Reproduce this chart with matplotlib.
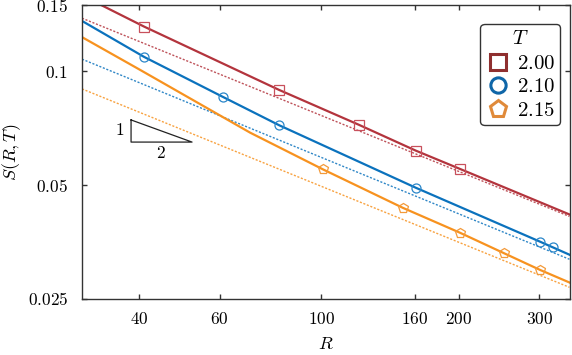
import numpy as np
import matplotlib
matplotlib.use('Agg')
from matplotlib import pyplot as plt
from matplotlib.lines import Line2D
from matplotlib.ticker import FixedLocator, FixedFormatter, NullLocator

plt.rcParams['mathtext.fontset'] = 'cm'
plt.rcParams['font.family'] = 'DejaVu Serif'

# ---------------- data ----------------
temps = ['2.00', '2.10', '2.15']

# simulation points
R_200 = [41, 81, 121, 161, 201]
S_200 = [0.1315, 0.0893, 0.0722, 0.0617, 0.0552]
R_210 = [41, 61, 81, 161, 301, 321]
S_210 = [0.1093, 0.0856, 0.0720, 0.0492, 0.0354, 0.0342]
R_215 = [101, 151, 201, 251, 301]
S_215 = [0.0550, 0.0435, 0.0374, 0.0330, 0.0298]

# fitted curves (solid)
fitR_200 = [30, 41, 81, 121, 161, 201, 349]
fitS_200 = [0.159, 0.1315, 0.0893, 0.0722, 0.0617, 0.0552, 0.0418]
fitR_210 = [30, 41, 61, 81, 161, 301, 321, 349]
fitS_210 = [0.1361, 0.1093, 0.0856, 0.0720, 0.0492, 0.0354, 0.0342, 0.0327]
fitR_215 = [30, 40, 70, 101, 151, 201, 251, 301, 349]
fitS_215 = [0.1233, 0.1013, 0.0688, 0.0550, 0.0435, 0.0374, 0.0330, 0.0298, 0.0276]

# asymptotic power laws (dotted)
asyR = [30, 349]
asyS_200 = [0.1384, 0.0413]
asyS_210 = [0.1078, 0.0318]
asyS_215 = [0.0899, 0.0268]

xticks = [40, 60, 100, 160, 200, 300]
yticks = [0.025, 0.05, 0.1, 0.15]
ytick_labels = ['0.025', '0.05', '0.1', '0.15']

# colours
c_line = ['#b3343d', '#0b72bd', '#f7921f']
c_mark = ['#c8505c', '#2a86c9', '#f39a3a']
c_leg = ['#8f2f2f', '#0f66a8', '#e08a3a']
mk = ['s', 'o', 'p']

fig = plt.figure(figsize=(5.72, 3.55), dpi=100)
ax = fig.add_axes([0.1434, 0.1586, 0.8531, 0.8273])

pts = [(R_200, S_200), (R_210, S_210), (R_215, S_215)]
fits = [(fitR_200, fitS_200), (fitR_210, fitS_210), (fitR_215, fitS_215)]
asys = [asyS_200, asyS_210, asyS_215]

for i in range(3):
    ax.plot(asyR, asys[i], color=c_line[i], lw=1.0, ls=(0, (1.5, 1.2)), alpha=0.85)
    ax.plot(fits[i][0], fits[i][1], color=c_line[i], lw=1.6)
    ax.plot(pts[i][0], pts[i][1], ls='none', marker=mk[i], ms=6.5 if i != 2 else 7.5,
            mfc='none', mec=c_mark[i], mew=0.9)

ax.set_xscale('log')
ax.set_yscale('log')
ax.set_xlim(30, 350)
ax.set_ylim(0.025, 0.15)

ax.xaxis.set_major_locator(FixedLocator(xticks))
ax.xaxis.set_major_formatter(FixedFormatter(['$%d$' % t for t in xticks]))
ax.yaxis.set_major_locator(FixedLocator(yticks))
ax.yaxis.set_major_formatter(FixedFormatter(['$%s$' % t for t in ytick_labels]))
ax.xaxis.set_minor_locator(NullLocator())
ax.yaxis.set_minor_locator(NullLocator())
ax.tick_params(which='major', direction='in', length=3.5, width=1.0, color='#333333',
               top=True, right=True, labelsize=12.5)
ax.tick_params(axis='x', pad=9)
ax.tick_params(axis='y', pad=10)
for s in ax.spines.values():
    s.set_linewidth(1.0)
    s.set_color('#333333')

ax.set_xlabel('$R$', fontsize=13, labelpad=5)
ax.set_ylabel('$S(R,T)$', fontsize=13, labelpad=3)

# slope triangle
ax.plot([38.4, 38.4, 52.2, 38.4], [0.0744, 0.0650, 0.0650, 0.0744], color='#222222', lw=0.9)
ax.text(37.2, 0.0697, '$1$', ha='right', va='center', fontsize=12.5)
ax.text(44.6, 0.0608, '$2$', ha='center', va='center', fontsize=12.5)

handles = [Line2D([], [], ls='none', marker=mk[i], ms=11 if i != 2 else 12.5, mfc='none',
                  mec=c_leg[i], mew=2.2) for i in range(3)]
leg = ax.legend(handles, ['$%s$' % t for t in temps], title='$T$', loc='upper right',
                bbox_to_anchor=(0.98, 0.935), borderaxespad=0, fontsize=15,
                title_fontsize=15, handletextpad=0.3, handlelength=1.2,
                labelspacing=0.22, borderpad=0.25, fancybox=True, framealpha=1)
leg.get_frame().set_edgecolor('#333333')
leg.get_frame().set_linewidth(1.0)
leg._legend_box.sep = 4

fig.savefig('out.png', dpi=100)
